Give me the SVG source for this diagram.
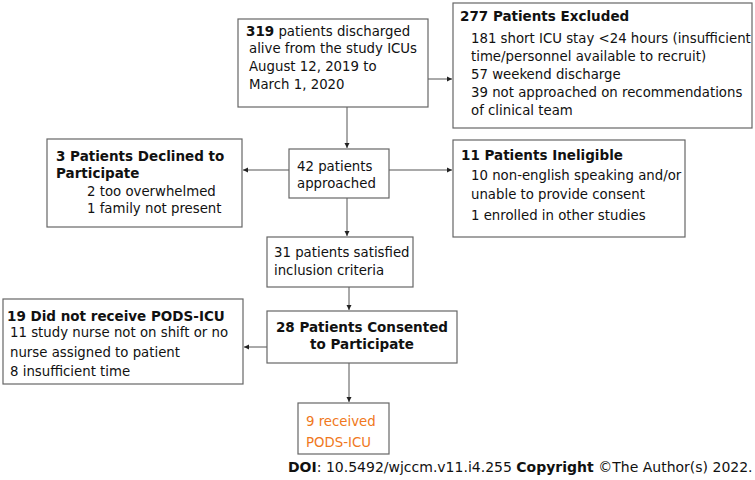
<svg xmlns="http://www.w3.org/2000/svg" width="755" height="480" viewBox="0 0 755 480">
<defs>
<marker id="ah" markerWidth="6" markerHeight="6" refX="5" refY="3" orient="auto" markerUnits="userSpaceOnUse">
<path d="M0,0.5 L5,3 L0,5.5 z" fill="#222"/>
</marker>
<style>
.box{fill:#fff;stroke:#666;stroke-width:1.2}
.t{font-family:"DejaVu Sans",Verdana,sans-serif;font-size:13.3px;fill:#111}
.b{font-weight:bold;font-size:13.5px}
.c{stroke:#555;stroke-width:1;fill:none;marker-end:url(#ah)}
.o{fill:#F07820}
</style>
</defs>
<rect width="755" height="480" fill="#fff"/>
<g id="connectors">
<path class="c" d="M428,79 H452"/>
<path class="c" d="M347,107 V148"/>
<path class="c" d="M289,170 H243"/>
<path class="c" d="M389,170 H452"/>
<path class="c" d="M347,198 V236"/>
<path class="c" d="M349,287 V310"/>
<path class="c" d="M267,347 H244"/>
<path class="c" d="M349,363 V402"/>
</g>
<g id="n319">
<rect class="box" x="238" y="19" width="190" height="88"/>
<text class="t" x="246" y="36"><tspan class="b">319</tspan> patients discharged</text>
<text class="t" x="249" y="53">alive from the study ICUs</text>
<text class="t" x="249" y="71">August 12, 2019 to</text>
<text class="t" x="249" y="89">March 1, 2020</text>
</g>
<g id="n277">
<rect class="box" x="453" y="3" width="299" height="125"/>
<text class="t b" x="460" y="21">277 Patients Excluded</text>
<text class="t" x="471" y="43">181 short ICU stay &lt;24 hours (insufficient</text>
<text class="t" x="471" y="61">time/personnel available to recruit)</text>
<text class="t" x="471" y="79">57 weekend discharge</text>
<text class="t" x="471" y="97">39 not approached on recommendations</text>
<text class="t" x="471" y="115">of clinical team</text>
</g>
<g id="n42">
<rect class="box" x="289" y="149" width="100" height="49"/>
<text class="t" x="297" y="171">42 patients</text>
<text class="t" x="297" y="188">approached</text>
</g>
<g id="n3">
<rect class="box" x="47" y="139" width="195" height="88"/>
<text class="t b" x="56" y="161">3 Patients Declined to</text>
<text class="t b" x="56" y="178">Participate</text>
<text class="t" x="87" y="196">2 too overwhelmed</text>
<text class="t" x="87" y="213">1 family not present</text>
</g>
<g id="n11">
<rect class="box" x="453" y="140" width="232" height="97"/>
<text class="t b" x="461" y="160">11 Patients Ineligible</text>
<text class="t" x="471" y="180">10 non-english speaking and/or</text>
<text class="t" x="471" y="199">unable to provide consent</text>
<text class="t" x="471" y="220">1 enrolled in other studies</text>
</g>
<g id="n31">
<rect class="box" x="267" y="237" width="146" height="50"/>
<text class="t" x="274" y="257">31 patients satisfied</text>
<text class="t" x="274" y="275">inclusion criteria</text>
</g>
<g id="n28">
<rect class="box" x="267" y="311" width="190" height="52"/>
<text class="t b" x="362" y="332" text-anchor="middle">28 Patients Consented</text>
<text class="t b" x="362" y="349" text-anchor="middle">to Participate</text>
</g>
<g id="n19">
<rect class="box" x="3" y="299" width="240" height="85"/>
<text class="t b" x="7" y="321">19 Did not receive PODS-ICU</text>
<text class="t" x="10" y="337">11 study nurse not on shift or no</text>
<text class="t" x="10" y="357">nurse assigned to patient</text>
<text class="t" x="10" y="376">8 insufficient time</text>
</g>
<g id="n9">
<rect class="box" x="298" y="403" width="91" height="51"/>
<text class="t o" x="306" y="426">9 received</text>
<text class="t o" x="306" y="447">PODS-ICU</text>
</g>
<text class="t" x="288" y="472" style="font-size:14px"><tspan class="b" style="font-size:14px">DOI</tspan>: 10.5492/wjccm.v11.i4.255 <tspan class="b" style="font-size:14px">Copyright</tspan> ©The Author(s) 2022.</text>
</svg>
